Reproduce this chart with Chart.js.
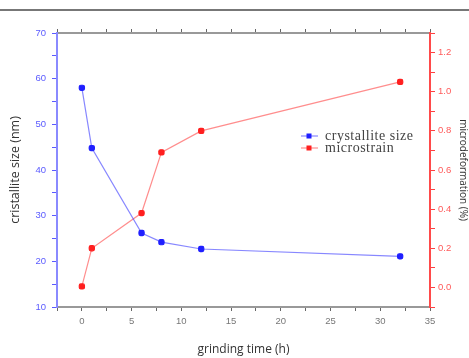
<!DOCTYPE html>
<html>
<head>
<meta charset="utf-8">
<script src="https://cdn.jsdelivr.net/npm/chart.js@4/dist/chart.umd.min.js"></script>
<style>
    html, body { margin: 0; padding: 0; background: #fff; }
    #wrap { position: relative; width: 469px; height: 358px; }
    #rule { position: absolute; left: 0; top: 9px; width: 469px; height: 2px; background: #777; }
</style>
</head>
<body>
<div id="wrap">
    <canvas id="chart" width="469" height="358"></canvas>
    <div id="rule"></div>
</div>
<script>
// grinding time (h)
const grindTime = [0, 1, 6, 8, 12, 32]
// crystallite size (nm), left axis
const crystalliteSize = [58, 44.8, 26.2, 24.2, 22.7, 21.1]
// microstrain (%), right axis
const microstrain = [0.005, 0.2, 0.38, 0.69, 0.80, 1.05]

const xTickLabels = [0, 5, 10, 15, 20, 25, 30, 35]
const sizeTickLabels = [10, 20, 30, 40, 50, 60, 70]
const strainTickLabels = [0.0, 0.2, 0.4, 0.6, 0.8, 1.0, 1.2]

const blue = '#1f1fff'
const red = '#ff1f1f'
const tickFont = { family: 'Liberation Sans, Arial, sans-serif', size: 9.5 }
const titleFont = { family: 'Open Sans, sans-serif', size: 12 }

const near = (list, v) => list.some(t => Math.abs(t - v) < 1e-6)

// legend drawn inside the plot, like the original
const innerLegend = {
    id: 'innerLegend',
    afterDraw(chart) {
        const ctx = chart.ctx
        const rows = [136, 148]
        ctx.save()
        chart.data.datasets.forEach((ds, i) => {
            const y = rows[i]
            ctx.strokeStyle = ds.borderColor
            ctx.lineWidth = 1.2
            ctx.beginPath()
            ctx.moveTo(301, y)
            ctx.lineTo(318, y)
            ctx.stroke()
            ctx.fillStyle = ds.pointBackgroundColor
            ctx.fillRect(306.5, y - 2.5, 5, 5)
            ctx.fillStyle = '#444'
            ctx.font = '14px "Liberation Serif", "Times New Roman", serif'
            ctx.letterSpacing = '0.5px'
            ctx.textBaseline = 'middle'
            ctx.fillText(ds.label, 325, y)
        })
        ctx.restore()
    }
}

new Chart(document.getElementById('chart'), {
    type: 'line',
    data: {
        datasets: [
            {
                label: 'crystallite size',
                data: grindTime.map((t, i) => ({ x: t, y: crystalliteSize[i] })),
                yAxisID: 'y',
                borderColor: 'rgba(70, 70, 255, 0.65)',
                borderWidth: 1.2,
                pointBackgroundColor: blue,
                pointBorderColor: blue,
                pointStyle: 'rectRounded',
                pointRadius: 3,
                tension: 0,
            },
            {
                label: 'microstrain',
                data: grindTime.map((t, i) => ({ x: t, y: microstrain[i] })),
                yAxisID: 'y1',
                borderColor: 'rgba(255, 80, 80, 0.65)',
                borderWidth: 1.2,
                pointBackgroundColor: red,
                pointBorderColor: red,
                pointStyle: 'rectRounded',
                pointRadius: 3,
                tension: 0,
            }
        ]
    },
    options: {
        responsive: false,
        animation: false,
        layout: { padding: 0 },
        plugins: {
            legend: { display: false },
            tooltip: { enabled: false },
        },
        scales: {
            x: {
                type: 'linear',
                position: 'bottom',
                min: -2.5,
                max: 35,
                afterBuildTicks: s => { s.ticks = []; for (let v = -2.5; v <= 35; v += 2.5) s.ticks.push({ value: v }) },
                afterFit: s => { s.height = 51 },
                ticks: {
                    autoSkip: false,
                    maxRotation: 0,
                    padding: 5,
                    color: '#777',
                    font: tickFont,
                    callback: v => near(xTickLabels, v) ? String(v) : '',
                },
                grid: { drawOnChartArea: false, tickLength: 4, color: '#666' },
                border: { color: '#999', width: 2 },
                title: {
                    display: true,
                    text: 'grinding time (h)',
                    color: '#333',
                    font: titleFont,
                    padding: { top: 0, bottom: 1 },
                },
            },
            x2: {
                type: 'linear',
                position: 'top',
                min: -2.5,
                max: 35,
                afterBuildTicks: s => { s.ticks = []; for (let v = -2.5; v <= 35; v += 2.5) s.ticks.push({ value: v }) },
                afterFit: s => { s.height = 33 },
                ticks: { autoSkip: false, callback: () => '' },
                grid: { drawOnChartArea: false, tickLength: 4, color: '#666' },
                border: { color: '#999', width: 2 },
            },
            y: {
                position: 'left',
                min: 10,
                max: 70,
                afterBuildTicks: s => { s.ticks = []; for (let v = 10; v <= 70; v += 5) s.ticks.push({ value: v }) },
                afterFit: s => { s.width = 57 },
                ticks: {
                    autoSkip: false,
                    padding: 6,
                    color: '#5a5aff',
                    font: tickFont,
                    callback: v => near(sizeTickLabels, v) ? String(v) : '',
                },
                grid: { drawOnChartArea: false, tickLength: 5, color: '#5a5aff' },
                border: { color: '#8a8aff', width: 2 },
                title: {
                    display: true,
                    text: 'cristallite size (nm)',
                    color: '#333',
                    font: { family: 'Open Sans, sans-serif', size: 12.5 },
                    padding: { top: 8, bottom: 0 },
                },
            },
            y1: {
                position: 'right',
                min: -0.1,
                max: 1.3,
                afterBuildTicks: s => { s.ticks = []; for (let k = -1; k <= 13; k++) s.ticks.push({ value: k / 10 }) },
                afterFit: s => { s.width = 39 },
                ticks: {
                    autoSkip: false,
                    padding: 3,
                    color: '#ff5a5a',
                    font: tickFont,
                    callback: v => near(strainTickLabels, v) ? v.toFixed(1) : '',
                },
                grid: { drawOnChartArea: false, tickLength: 5, color: '#ff4040' },
                border: { color: '#ff4a4a', width: 2 },
                title: {
                    display: true,
                    text: 'microdeformation (%)',
                    color: '#333',
                    font: { family: 'Open Sans, sans-serif', size: 10 },
                    padding: { top: 0, bottom: 0 },
                },
            },
        }
    },
    plugins: [innerLegend]
})
</script>
</body>
</html>
